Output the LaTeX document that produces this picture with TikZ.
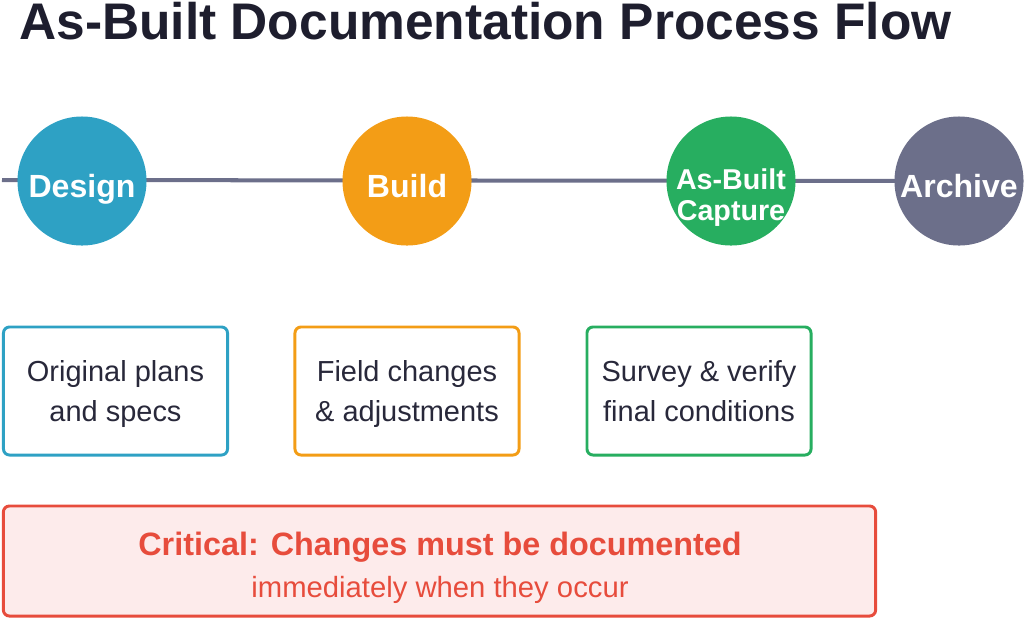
\documentclass[tikz,border=0pt]{standalone}
\usepackage{fontspec}
\setmainfont{Liberation Sans}
\usetikzlibrary{backgrounds,positioning}
\definecolor{titleC}{RGB}{30,30,46}
\definecolor{textC}{RGB}{40,40,58}
\definecolor{designC}{RGB}{46,161,196}
\definecolor{buildC}{RGB}{243,157,22}
\definecolor{captureC}{RGB}{39,174,96}
\definecolor{archiveC}{RGB}{108,111,138}
\definecolor{critC}{RGB}{231,76,60}
\definecolor{critfill}{RGB}{253,235,235}

\begin{document}
\begin{tikzpicture}[x=0.025cm,y=-0.025cm,
  stage/.style={circle,minimum size=3.225cm,inner sep=0pt},
  stagelbl/.style={text=white,inner sep=0pt,anchor=base,
    font=\fontsize{22.8}{26}\selectfont\bfseries},
  notebox/.style={draw,line width=2.1pt,rounded corners=0.15cm,
    minimum width=5.6cm,minimum height=3.2cm,align=center,inner sep=0pt,
    text depth=0pt,text=textC,font=\fontsize{20.6}{28}\selectfont}]
  \useasboundingbox (0,0) rectangle (1024,620);
  \node[anchor=base west,inner sep=0pt,text=titleC,
    font=\fontsize{36.6}{40}\selectfont\bfseries] (title) at (19,39.5)
    {As-Built Documentation Process Flow};
  % stages
  \node[stage,fill=designC]  (design)  at (82,181)  {};
  \node[stage,fill=buildC]   (build)   at (407,181) {};
  \node[stage,fill=captureC] (capture) at (731,181) {};
  \node[stage,fill=archiveC] (archive) at (959,181) {};
  \node[stagelbl] (designlbl)  at (82,197)  {Design};
  \node[stagelbl] (buildlbl)   at (407,197) {Build};
  \node[stagelbl,anchor=center,align=center,
    font=\fontsize{20.4}{22}\selectfont\bfseries] (capturelbl) at (731,197.5)
    {As-Built\\Capture};
  \node[stagelbl] (archivelbl) at (959,197) {Archive};
  \coordinate (linestart) at (2,180);
  \begin{scope}[on background layer]
    \draw[archiveC,line width=2.85pt] (linestart) -- (archive.center);
  \end{scope}
  % notes
  \node[notebox,draw=designC]  (plans)  at (115.5,391) {Original plans\\and specs};
  \node[notebox,draw=buildC]   (field)  at (407,391)   {Field changes\\\& adjustments};
  \node[notebox,draw=captureC] (survey) at (699,391)   {Survey \& verify\\final conditions};
  % warning
  \node[draw=critC,fill=critfill,line width=2.1pt,rounded corners=0.15cm,
    minimum width=21.8cm,minimum height=2.75cm] (critbox) at (439.5,561) {};
  \node[anchor=base,inner sep=0pt,text=critC,
    font=\fontsize{23}{26}\selectfont\bfseries] (crithead) at (440,555)
    {Critical: Changes must be documented};
  \node[anchor=base,inner sep=0pt,text=critC,
    font=\fontsize{20.8}{24}\selectfont] (critnote) at (440,597)
    {immediately when they occur};
\end{tikzpicture}
\end{document}
